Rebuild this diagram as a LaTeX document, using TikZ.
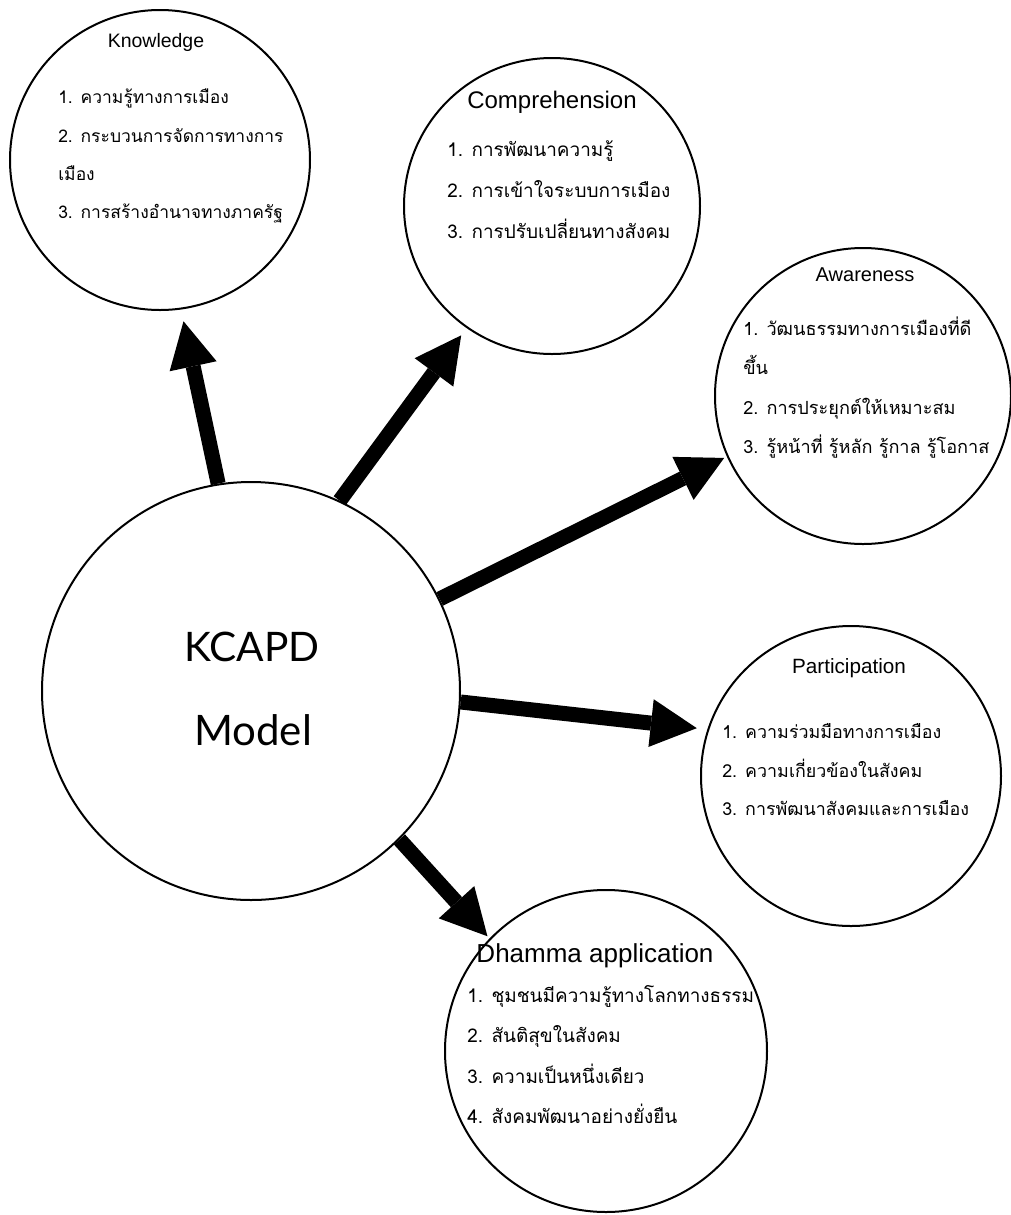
\documentclass[tikz,border=0pt]{standalone}
\usepackage{fontspec}
\setmainfont{Liberation Sans}
\newfontfamily\thai[Script=Thai]{Loma}
\newfontfamily\latofont{Lato}
\usetikzlibrary{arrows.meta}
\begin{document}
\begin{tikzpicture}[x=0.75pt,y=-0.75pt,
  bubble/.style={circle,draw=black,line width=1.5pt,inner sep=0pt},
  ttl/.style={inner sep=0pt,anchor=center},
  item/.style={inner sep=0pt,anchor=base west,font=\thai\fontsize{#1}{16pt}\selectfont},
  item/.default=13pt,
  bigarrow/.style={line width=11.25pt,-{Triangle[length=34.5pt,width=36pt,line width=0pt]}}]
\useasboundingbox (0,0) rectangle (1011,1215);
% circles
\node[bubble,minimum size=225pt] (know) at (160,160) {};
\node[bubble,minimum size=222pt] (comp) at (552,206) {};
\node[bubble,minimum size=222pt] (aware) at (863,396) {};
\node[bubble,minimum size=225pt] (part) at (851,776) {};
\node[bubble,minimum size=241.5pt] (dham) at (606,1051) {};
\node[bubble,minimum size=313.5pt] (kcapd) at (251,691) {};
% center text
\node[ttl,font=\latofont\fontsize{30.5pt}{36pt}\selectfont] (kc1) at (252,647) {KCAPD};
\node[ttl,font=\latofont\fontsize{31.5pt}{36pt}\selectfont] (kc2) at (253,730) {Model};
% titles
\node[ttl,font=\fontsize{14.6pt}{17pt}\selectfont] (tk) at (156,42) {Knowledge};
\node[ttl,font=\fontsize{18pt}{21pt}\selectfont] (tc) at (552,102) {Comprehension};
\node[ttl,font=\fontsize{15pt}{18pt}\selectfont] (ta) at (865,275) {Awareness};
\node[ttl,font=\fontsize{15.5pt}{18pt}\selectfont] (tp) at (849,668) {Participation};
\node[ttl,font=\fontsize{19.5pt}{23pt}\selectfont] (td) at (595,956) {Dhamma application};
% Knowledge items
\node[item=13.1pt] (k1) at (58,103) {1. ความรู้ทางการเมือง};
\node[item=13.1pt] (k2) at (58,142) {2. กระบวนการจัดการทางการ};
\node[item=13.1pt] (k2b) at (58,180) {เมือง};
\node[item=13.1pt] (k3) at (58,218) {3. การสร้างอำนาจทางภาครัฐ};
% Comprehension items
\node[item=14.2pt] (c1) at (447,156) {1. การพัฒนาความรู้};
\node[item=14.2pt] (c2) at (447,197) {2. การเข้าใจระบบการเมือง};
\node[item=14.2pt] (c3) at (447,238) {3. การปรับเปลี่ยนทางสังคม};
% Awareness items
\node[item=13.6pt] (a1) at (743,335) {1. วัฒนธรรมทางการเมืองที่ดี};
\node[item=13.6pt] (a1b) at (743,374) {ขึ้น};
\node[item=13.6pt] (a2) at (743,414) {2. การประยุกต์ให้เหมาะสม};
\node[item=13.6pt] (a3) at (743,453) {3. รู้หน้าที่ รู้หลัก รู้กาล รู้โอกาส};
% Participation items
\node[item=13.4pt] (p1) at (722,738) {1. ความร่วมมือทางการเมือง};
\node[item=13.4pt] (p2) at (722,777) {2. ความเกี่ยวข้องในสังคม};
\node[item=13.4pt] (p3) at (722,815) {3. การพัฒนาสังคมและการเมือง};
% Dhamma items
\node[item=14.2pt] (d1) at (467,1002) {1. ชุมชนมีความรู้ทางโลกทางธรรม};
\node[item=14.2pt] (d2) at (467,1042) {2. สันติสุขในสังคม};
\node[item=14.2pt] (d3) at (467,1083) {3. ความเป็นหนึ่งเดียว};
\node[item=14.2pt] (d4) at (467,1123) {4. สังคมพัฒนาอย่างยั่งยืน};
% arrows
\draw[bigarrow,shorten >=9pt] (kcapd.99) -- (know.278);
\draw[bigarrow,shorten >=6.75pt] (kcapd.65) -- (comp.235);
\draw[bigarrow,shorten >=2.25pt] (kcapd.26) -- (aware.204);
\draw[bigarrow,shorten >=8pt] (kcapd.-3) -- (part.162);
\draw[bigarrow,shorten >=2.25pt] (kcapd.-45) -- (dham.136);
\end{tikzpicture}
\end{document}
